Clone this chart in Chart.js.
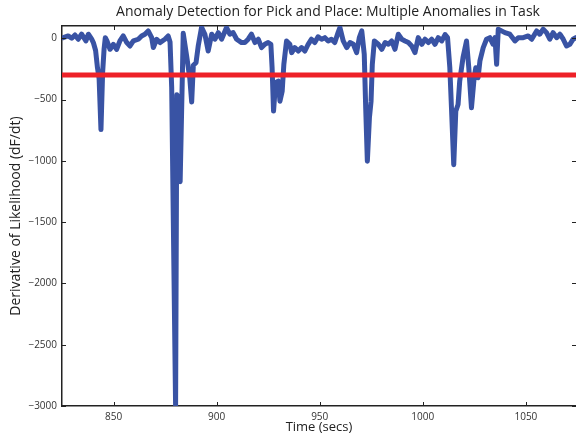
<!DOCTYPE html>
<html>
<head>
<meta charset="utf-8">
<script src="https://cdn.jsdelivr.net/npm/chart.js@4/dist/chart.umd.min.js"></script>
<style>
  html, body { margin: 0; padding: 0; background: #ffffff; }
  #wrap { width: 576px; height: 439px; position: relative; }
</style>
</head>
<body>
<div id="wrap"><canvas id="c" width="576" height="439"></canvas></div>
<script>
// ---- data ----
const chartTitle = "Anomaly Detection for Pick and Place: Multiple Anomalies in Task";
const xLabel = "Time (secs)";
const yLabel = "Derivative of Likelihood (dF/dt)";

const timeSecs = [
  825.6, 828.0, 829.7, 831.3, 832.9, 834.5, 836.6, 837.8, 839.4, 840.2,
  841.3, 842.2, 843.0, 843.9, 844.7, 845.4, 846.0, 846.8, 848.3, 849.9,
  851.5, 853.1, 854.7, 856.4, 858.0, 859.6, 862.0, 863.6, 865.2, 866.8,
  868.5, 869.3, 870.9, 872.5, 874.9, 876.5, 877.4, 878.2, 880.1, 880.7,
  881.4, 882.3, 883.8, 885.5, 887.0, 887.9, 888.7, 890.0, 891.1, 892.7,
  894.3, 895.9, 897.6, 899.2, 900.8, 902.4, 904.8, 906.4, 908.0, 909.7,
  912.1, 913.7, 915.3, 916.9, 918.6, 920.2, 921.8, 923.4, 925.0, 926.3,
  926.9, 927.6, 928.6, 929.9, 930.7, 931.8, 932.6, 933.9, 935.5, 936.4,
  937.9, 939.6, 941.2, 942.8, 944.4, 946.0, 947.6, 949.2, 950.9, 952.5,
  954.1, 955.7, 957.3, 958.9, 959.8, 961.4, 963.1, 964.7, 966.3, 967.9,
  969.2, 970.4, 971.6, 972.3, 973.1, 974.1, 974.9, 975.5, 976.5, 978.4,
  980.1, 981.7, 983.3, 984.9, 986.5, 988.1, 989.8, 991.4, 993.0, 994.6,
  996.2, 997.8, 999.5, 1001.1, 1002.7, 1004.3, 1005.9, 1007.5, 1009.2, 1010.8,
  1012.0, 1013.1, 1013.9, 1015.0, 1016.0, 1017.1, 1017.9, 1019.5, 1021.2, 1022.3,
  1023.6, 1024.9, 1025.7, 1026.8, 1027.7, 1029.3, 1030.9, 1032.5, 1034.1, 1035.0,
  1035.8, 1036.6, 1038.2, 1039.8, 1042.2, 1044.7, 1046.3, 1048.7, 1051.1, 1052.8,
  1055.2, 1056.7, 1058.4, 1060.0, 1061.6, 1063.2, 1064.9, 1066.5, 1068.1, 1069.7,
  1071.3, 1072.9, 1074.2
];
const dFdt = [
  5, 19, 0, 27, -8, 33, -22, 33, -8, -35,
  -100, -240, -330, -745, -280, -90, 5, -22, -90, -49,
  -90, -22, 19, -35, -63, -22, -8, 19, 33, 60,
  5, -76, -8, -35, -8, 19, -30, -400, -3000, -460,
  -480, -1170, 40, -150, -330, -520, -220, -200, -60, 90,
  33, -104, 33, -8, 46, -8, 87, 33, 46, -8,
  -35, -35, -8, 33, -35, -8, -76, -49, -35, -49,
  -240, -594, -362, -349, -513, -431, -213, -22, -49, -117,
  -76, -104, -76, -104, -49, -8, -35, 12, -8, 5,
  -22, -8, -35, 46, 87, -22, -76, -35, -49, -117,
  5, 60, -131, -567, -1003, -649, -513, -213, -22, -49,
  -90, -35, -49, -22, -90, 33, -8, -22, -35, -63,
  -117, 5, -49, -8, -35, -8, -49, 5, -22, 30,
  5, -240, -567, -1031, -594, -540, -349, -158, -22, -240,
  -567, -322, -240, -322, -185, -76, -8, 5, -49, 5,
  -213, 74, 60, 46, 33, -22, 5, 5, 19, -8,
  60, 33, 74, 46, -8, 46, 5, 33, -8, -63,
  -49, -8, 5
];
const threshold = -300;
const xTicks = [850, 900, 950, 1000, 1050];
const yTicks = [0, -500, -1000, -1500, -2000, -2500, -3000];
const xMin = 825, xMax = 1074.3, yMin = -3000, yMax = 100;

// ---- chart ----
const FONT = "'Open Sans', 'Liberation Sans', sans-serif";
const fmt = v => (v < 0 ? '\u2212' + Math.abs(v) : String(v));

const innerTicks = {
  id: 'innerTicks',
  afterDatasetsDraw(chart) {
    const {ctx, chartArea: a} = chart;
    const xs = chart.scales.x, ys = chart.scales.y;
    const L = 4;
    ctx.save();
    ctx.strokeStyle = '#222';
    ctx.lineWidth = 1;
    ctx.beginPath();
    xs.ticks.forEach(t => {
      const p = Math.round(xs.getPixelForValue(t.value)) + 0.5;
      ctx.moveTo(p, a.bottom); ctx.lineTo(p, a.bottom - L);
      ctx.moveTo(p, a.top); ctx.lineTo(p, a.top + L);
    });
    ys.ticks.forEach(t => {
      const p = Math.round(ys.getPixelForValue(t.value)) + 0.5;
      ctx.moveTo(a.left, p); ctx.lineTo(a.left + L, p);
      ctx.moveTo(a.right, p); ctx.lineTo(a.right - L, p);
    });
    ctx.stroke();
    ctx.restore();
  }
};

const mainTitle = {
  id: 'mainTitle',
  afterDraw(chart) {
    const ctx = chart.ctx;
    ctx.save();
    ctx.fillStyle = '#222';
    ctx.font = "14px " + FONT;
    ctx.textAlign = 'center';
    ctx.textBaseline = 'middle';
    ctx.fillText(chartTitle, 328, 12);
    ctx.restore();
  }
};

new Chart(document.getElementById('c'), {
  type: 'line',
  data: {
    datasets: [
      {
        label: 'threshold',
        data: [{x: xMin, y: threshold}, {x: xMax, y: threshold}],
        borderColor: '#ee2128',
        borderWidth: 5,
        pointRadius: 0,
        tension: 0
      },
      {
        label: 'dF/dt',
        data: timeSecs.map((t, i) => ({x: t, y: dFdt[i]})),
        borderColor: '#3953a4',
        borderWidth: 5,
        borderJoinStyle: 'round',
        borderCapStyle: 'round',
        pointRadius: 0,
        tension: 0
      }
    ]
  },
  options: {
    responsive: false,
    animation: false,
    devicePixelRatio: 1,
    layout: { padding: { left: 0, right: 0, top: 0, bottom: 0 } },
    plugins: { legend: { display: false }, tooltip: { enabled: false }, title: { display: false } },
    scales: {
      x: {
        type: 'linear', position: 'bottom', min: xMin, max: xMax,
        afterBuildTicks: s => { s.ticks = xTicks.map(v => ({value: v})); },
        afterFit: s => { s.height = 33; },
        grid: { display: false, drawTicks: false },
        border: { display: true, color: '#222', width: 1.5 },
        ticks: { color: '#333', padding: 5, maxRotation: 0, font: { family: FONT, size: 10 }, callback: v => fmt(v) },
        title: { display: true, text: xLabel, color: '#222', font: { family: FONT, size: 13 }, padding: { top: 0, bottom: 4 } }
      },
      x2: {
        type: 'linear', position: 'top', min: xMin, max: xMax,
        afterFit: s => { s.height = 26; },
        grid: { display: false, drawTicks: false },
        border: { display: true, color: '#222', width: 1.5 },
        ticks: { display: false }
      },
      y: {
        type: 'linear', position: 'left', min: yMin, max: yMax,
        afterBuildTicks: s => { s.ticks = yTicks.map(v => ({value: v})); },
        afterFit: s => { s.width = 62; },
        grid: { display: false, drawTicks: false },
        border: { display: true, color: '#222', width: 1.5 },
        ticks: { color: '#333', padding: 5, font: { family: FONT, size: 10 }, callback: v => fmt(v) },
        title: { display: true, text: yLabel, color: '#222', font: { family: FONT, size: 14 }, padding: { top: 8, bottom: 0 } }
      }
    }
  },
  plugins: [innerTicks, mainTitle]
});
</script>
</body>
</html>
